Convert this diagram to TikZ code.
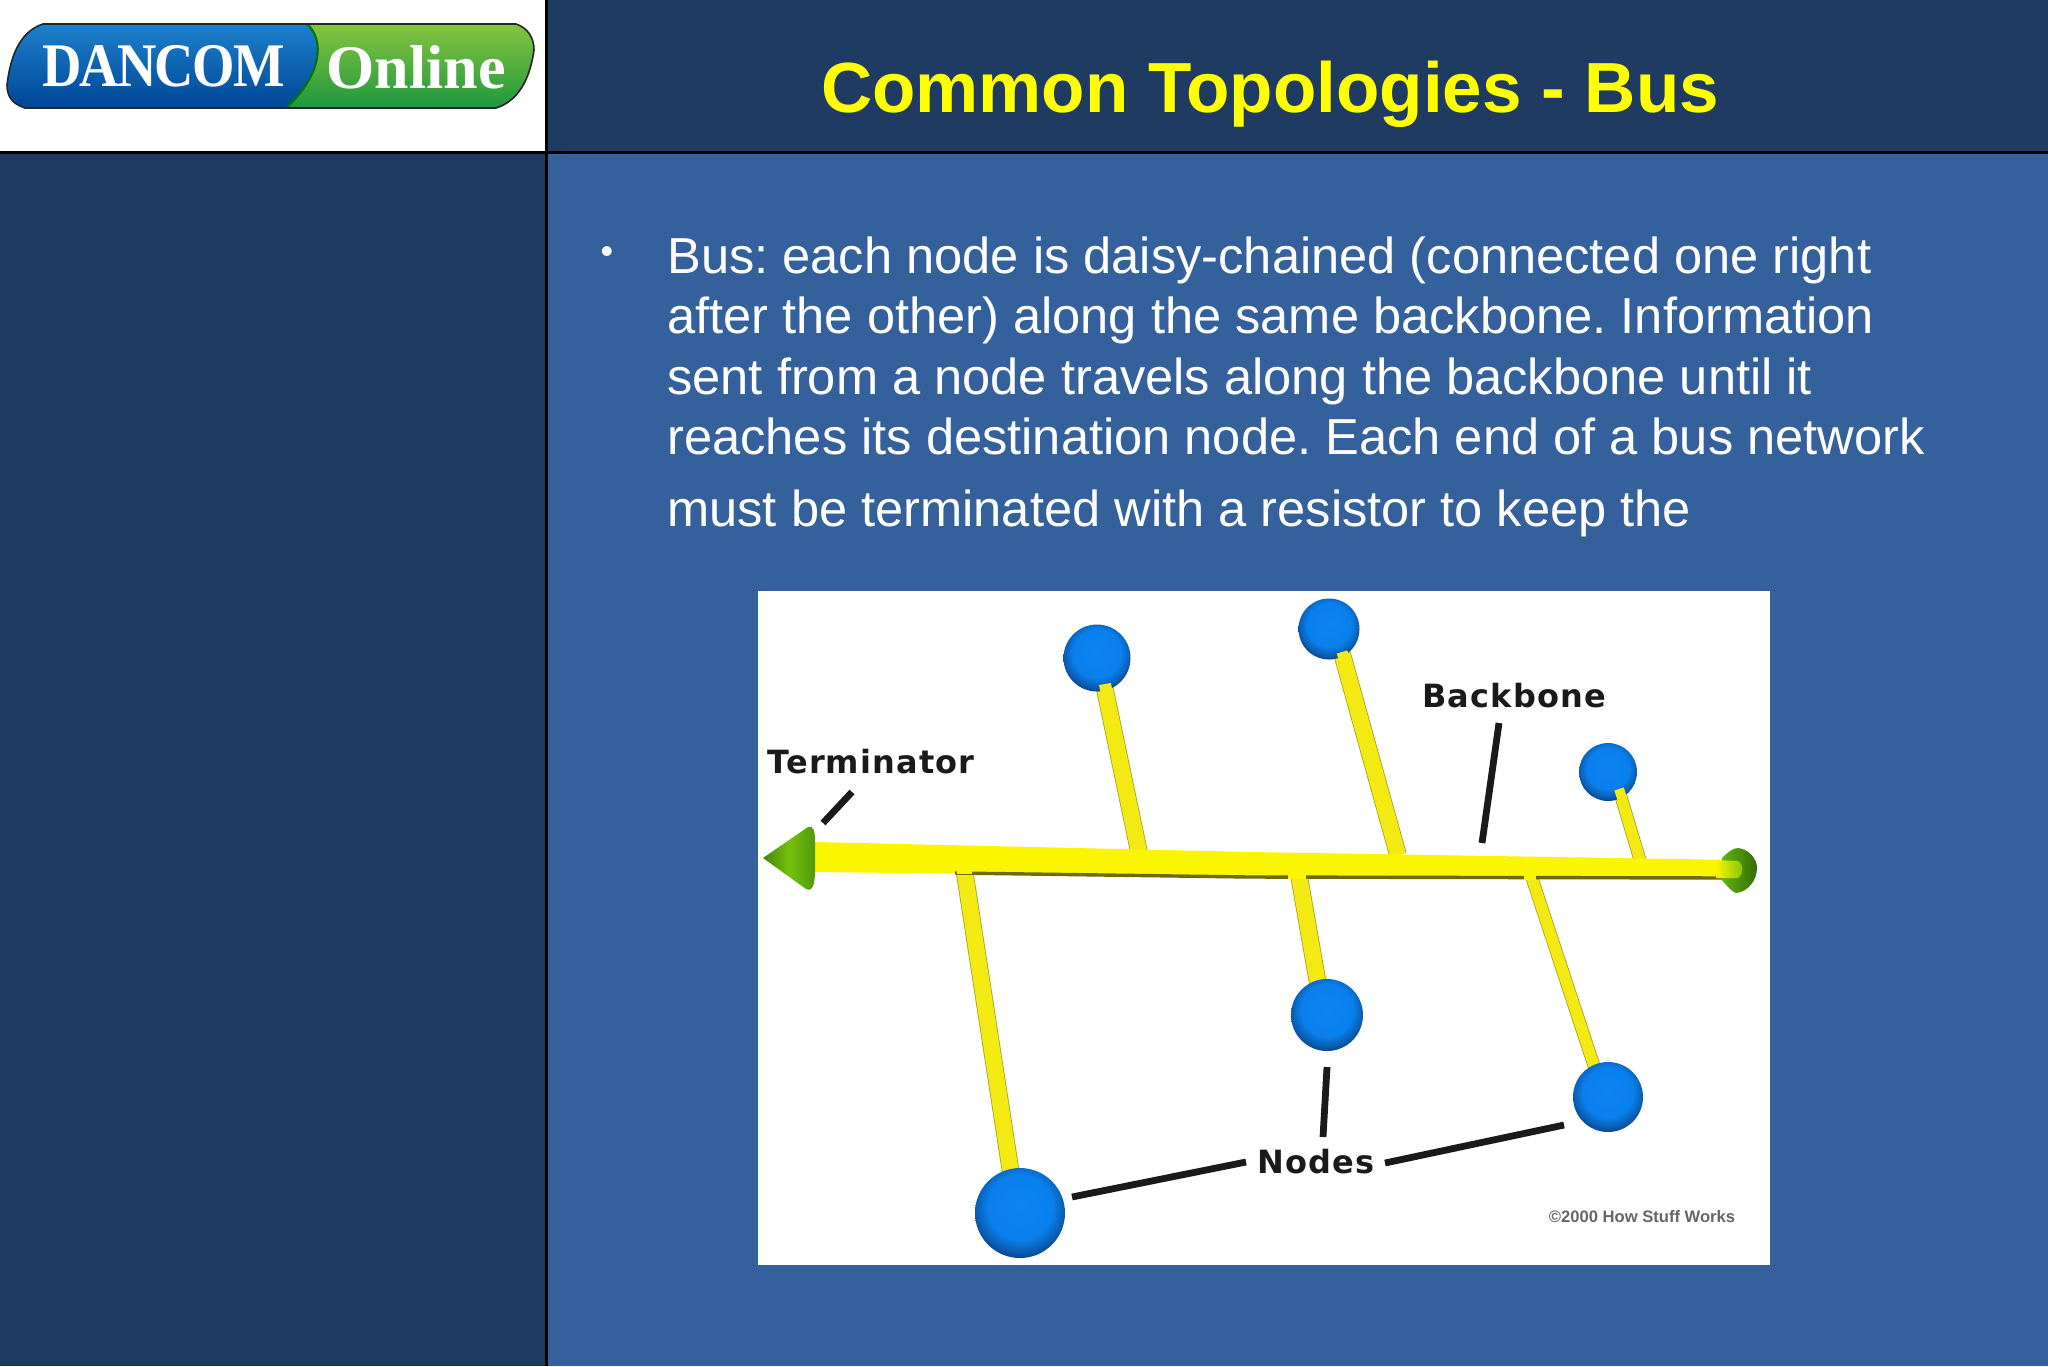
\documentclass[tikz,border=0pt]{standalone}
\usepackage{fontspec}
\setmainfont{Liberation Sans}
\newfontfamily\labelfont{DejaVu Sans}
\newfontfamily\logofont{Liberation Serif}
\usetikzlibrary{calc}
\definecolor{barcol}{HTML}{1F3B61}
\definecolor{sidecol}{HTML}{1E3A63}
\definecolor{maincol}{HTML}{34619C}
\definecolor{titlecol}{HTML}{FFFF00}
\definecolor{stemcol}{HTML}{F2EA12}
\definecolor{stemedge}{HTML}{A8A020}
\definecolor{bbcol}{HTML}{FAF500}
\definecolor{bbdark}{HTML}{6F6A08}
\definecolor{greenC}{HTML}{5DB40F}
\definecolor{inkcol}{HTML}{1A1A1C}
\pgfdeclareradialshading{ballblue}{\pgfpoint{0bp}{4bp}}{
  rgb(0bp)=(0.04,0.52,0.95);
  rgb(18bp)=(0.04,0.50,0.93);
  rgb(24bp)=(0.04,0.38,0.72);
  rgb(29bp)=(0.03,0.25,0.52);
  rgb(100bp)=(0.03,0.25,0.52)}
\tikzset{
  ball/.style={circle,inner sep=0pt,shade,shading=ballblue},
  stemline/.style={line width=8pt,stemcol},
  stemunder/.style={line width=8.8pt,stemedge},
  pointer/.style={line width=3.4pt,inkcol},
  panelrule/.style={line width=1.5pt,black},
  bodyline/.style={anchor=base west,inner sep=0pt,text=white,font=\fontsize{25.3}{25.3}\selectfont\frenchspacing},
  figlabel/.style={inner sep=0pt,text=inkcol,font=\labelfont\bfseries\fontsize{16}{16}\selectfont\addfontfeature{LetterSpace=3.5}}
}
\begin{document}
\begin{tikzpicture}[x=0.5pt,y=-0.5pt]
\useasboundingbox (0,0) rectangle (2048,1366);
% panels
\fill[maincol] (0,0) rectangle (2048,1366);
\fill[barcol] (546,0) rectangle (2048,152);
\fill[sidecol] (0,152) rectangle (546,1366);
\fill[white] (0,0) rectangle (546,152);
\draw[panelrule] (0,152) -- (2048,152);
\draw[panelrule] (546,0) -- (546,1366);
% logo
\begin{scope}
\clip (43,24) -- (516,24) .. controls (528,28) and (534,38) .. (534,50)
  .. controls (531,72) and (522,100) .. (496,108) -- (25,108)
  .. controls (12,104) and (7,96) .. (7,85)
  .. controls (10,60) and (18,32) .. (43,24) -- cycle;
\shade[top color={rgb,255:red,134;green,196;blue,64},bottom color={rgb,255:red,30;green,152;blue,62}]
  (0,24) rectangle (540,108);
\shade[top color={rgb,255:red,28;green,128;blue,204},bottom color={rgb,255:red,0;green,70;blue,150}]
  (0,24) -- (307,24) .. controls (325,40) and (322,75) .. (286,108) -- (0,108) -- cycle;
\draw[line width=1pt,green!45!black] (307,24) .. controls (325,40) and (322,75) .. (286,108);
\end{scope}
\draw[line width=0.8pt,black!85] (43,24) -- (516,24) .. controls (528,28) and (534,38) .. (534,50)
  .. controls (531,72) and (522,100) .. (496,108) -- (25,108)
  .. controls (12,104) and (7,96) .. (7,85)
  .. controls (10,60) and (18,32) .. (43,24) -- cycle;
\node[inner sep=0pt,text=white] (logoa) at (163.5,66)
  {\logofont\bfseries\fontsize{31}{31}\selectfont\addfontfeature{FakeStretch=0.88,LetterSpace=-3}DANCOM};
\node[inner sep=0pt,text=white] (logob) at (416,67)
  {\logofont\bfseries\fontsize{31}{31}\selectfont Online};
% title
\node[inner sep=0pt,text=titlecol,font=\bfseries\fontsize{35.5}{35.5}\selectfont] (title) at (1270,94) {Common Topologies - Bus};
% body
\node[bodyline,anchor=base] (bullet) at (607,263) {\fontsize{18}{18}\selectfont •};
\node[bodyline] (l1) at (667,273) {Bus: each node is daisy-chained (connected one right};
\node[bodyline] (l2) at (667,333.5) {after the other) along the same backbone. Information};
\node[bodyline] (l3) at (667,394) {sent from a node travels along the backbone until it};
\node[bodyline] (l4) at (667,454) {reaches its destination node. Each end of a bus network};
\node[bodyline] (l5) at (667,526) {must be terminated with a resistor to keep the};
% figure
\fill[white] (758,591) rectangle (1770,1265);
% ball positions
\coordinate (j1) at (1139,852);
\coordinate (j2) at (1398,855);
\coordinate (j3) at (1640,860);
\coordinate (j4) at (1298,870);
\coordinate (j5) at (1530,872);
\coordinate (j6) at (964,868);
\coordinate (top1) at (1104,685);
\coordinate (top2) at (1341,650);
\coordinate (top3) at (1619,790);
\coordinate (top4) at (1319,990);
\coordinate (top5) at (1597,1075);
\coordinate (top6) at (1012,1180);
% stems
\foreach \a/\b in {j1/top1,j2/top2,j4/top4,j6/top6}{
  \draw[stemunder] (\a) -- (\b);
  \draw[stemline] (\a) -- (\b);
}
\draw[line width=6.4pt,stemedge] (j5) -- (top5);
\draw[line width=5.6pt,stemcol] (j5) -- (top5);
\draw[line width=6.4pt,stemedge] (j3) -- (top3);
\draw[line width=5.6pt,stemcol] (j3) -- (top3);
% backbone
\coordinate (bbTL) at (815,842);
\coordinate (bbTM) at (1250,852);
\coordinate (bbTR) at (1736,860);
\coordinate (bbBR) at (1736,878);
\coordinate (bbBM) at (1250,877);
\coordinate (bbBL) at (815,872);
\fill[bbcol] (bbTL) -- (bbTM) -- (bbTR) -- (bbBR) -- (bbBM) -- (bbBL) -- cycle;
\draw[line width=1.7pt,bbdark] ($(bbBL)+(140,1)$) -- (bbBM) -- (bbBR);
% junction patches
\fill[bbcol] (957,866) rectangle (972,874);
\fill[bbcol] (1288,870) rectangle (1306,879);
\fill[bbcol] (1524,872) rectangle (1536,880);
% terminators
\shade[left color=greenC!75!black,right color=greenC!85!black,middle color=greenC!85!yellow]
  (763,858) -- (808,827) .. controls (813,825) and (815,830) .. (815,842)
  -- (815,871) .. controls (815,885) and (812,892) .. (806,889) -- cycle;
\shade[left color=greenC,right color=greenC!60!black]
  (1722,858) .. controls (1728,852) and (1733,848) .. (1738,848)
  .. controls (1748,849) and (1757,858) .. (1757,868)
  .. controls (1757,880) and (1748,892) .. (1736,893)
  .. controls (1732,892) and (1727,886) .. (1722,880) -- cycle;
\shade[left color=bbcol,right color=greenC!80!yellow]
  (1716,860) -- (1738,861) .. controls (1744,864) and (1744,874) .. (1738,878) -- (1716,878) -- cycle;
% balls
\node[ball,minimum size=33.5pt] (n1) at (1097,658) {};
\node[ball,minimum size=30.5pt] (n2) at (1329,629) {};
\node[ball,minimum size=29pt] (n3) at (1608,772) {};
\node[ball,minimum size=36pt] (n4) at (1327,1015) {};
\node[ball,minimum size=35pt] (n5) at (1608,1097) {};
\node[ball,minimum size=45pt] (n6) at (1020,1213) {};
% stem ends over the balls
\draw[line width=6pt,stemcol] ($(top1)+(1,-1)$) -- ($(top1)+(3,10)$);
\draw[line width=5.5pt,stemcol] ($(top2)+(1,2)$) -- ($(top2)+(4,12)$);
\draw[line width=5pt,stemcol] ($(top3)+(0,-1)$) -- ($(top3)+(3,8)$);
% labels
\node[figlabel] (term) at (871,762) {Terminator};
\node[figlabel] (back) at (1514,696) {Backbone};
\node[figlabel] (nodes) at (1316,1162) {Nodes};
\node[inner sep=0pt,text=black!60,font=\bfseries\fontsize{8.3}{8.3}\selectfont] (copy) at (1642,1217) {©2000 How Stuff Works};
% pointers
\coordinate (pt1) at (823,823);
\coordinate (pt2) at (852,792);
\coordinate (pb1) at (1482,843);
\coordinate (pb2) at (1499,723);
\coordinate (pn1) at (1323,1137);
\coordinate (pn2) at (1327,1067);
\coordinate (pl1) at (1072,1197);
\coordinate (pl2) at (1246,1162);
\coordinate (pr1) at (1385,1163);
\coordinate (pr2) at (1564,1125);
\draw[pointer] (pt1) -- (pt2);
\draw[pointer] (pb1) -- (pb2);
\draw[pointer] (pn1) -- (pn2);
\draw[pointer] (pl1) -- (pl2);
\draw[pointer] (pr1) -- (pr2);
\end{tikzpicture}
\end{document}
